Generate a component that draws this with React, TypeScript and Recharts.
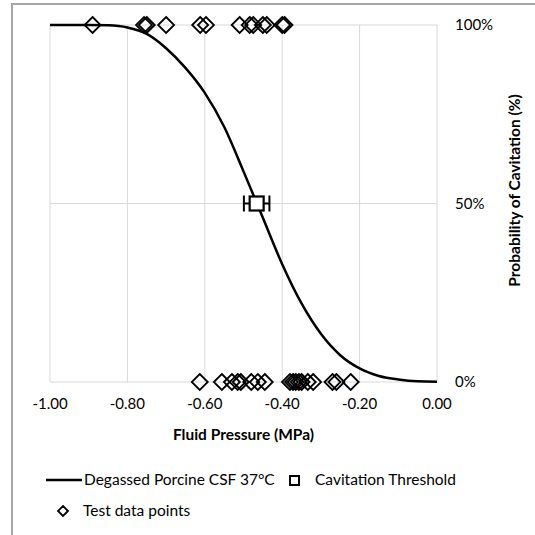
import { ComposedChart, Line, Scatter, ErrorBar, XAxis, YAxis, CartesianGrid } from "recharts";

const FONT = "Lato, 'Open Sans', sans-serif";

const xTicks = [-1, -0.8, -0.6, -0.4, -0.2, 0];
const yTicks = [0, 50, 100];

// fitted curve (pressure in MPa, probability in %)
const curveX = [-1, -0.95, -0.9, -0.85, -0.8, -0.75, -0.7, -0.65, -0.6, -0.55, -0.5, -0.45, -0.4, -0.35, -0.3, -0.25, -0.2, -0.15, -0.1, -0.05, 0];
const curveP = [100, 100, 100, 99.9, 99.3, 97.5, 93.5, 88, 81, 71.5, 59, 46, 33, 22, 13.5, 7.5, 3.8, 1.7, 0.7, 0.2, 0.1];

// test points that cavitated (100%) and did not (0%)
const cavitated = [-0.89, -0.757, -0.75, -0.7, -0.612, -0.597, -0.51, -0.484, -0.475, -0.45, -0.44, -0.4, -0.394];
const notCavitated = [-0.613, -0.556, -0.53, -0.515, -0.507, -0.48, -0.463, -0.445, -0.38, -0.372, -0.365, -0.357, -0.35, -0.334, -0.32, -0.27, -0.26, -0.223];

const thresholdX = -0.466;
const thresholdErr = 0.033;

const curveData = curveX.map((x, i) => ({ x, p: curveP[i] }));
const testData = [
  ...cavitated.map((x) => ({ x, p: 100 })),
  ...notCavitated.map((x) => ({ x, p: 0 })),
];
const thresholdData = [{ x: thresholdX, p: 50, err: thresholdErr }];

const Diamond = (props: any) => {
  const { cx, cy } = props;
  const r = 8;
  return (
    <path
      d={`M${cx},${cy - r}L${cx + r},${cy}L${cx},${cy + r}L${cx - r},${cy}Z`}
      fill="none"
      stroke="#000"
      strokeWidth={1.8}
    />
  );
};

const Square = (props: any) => {
  const { cx, cy } = props;
  return <rect x={cx - 7} y={cy - 7} width={14} height={14} fill="#fff" stroke="#000" strokeWidth={2.2} />;
};

const YTitle = (props: any) => {
  const { x, y, width, height } = props.viewBox;
  const cx = x + width - 21;
  const cy = y + height / 2 - 13;
  return (
    <text
      x={cx}
      y={cy}
      transform={`rotate(-90, ${cx}, ${cy})`}
      textAnchor="middle"
      dominantBaseline="central"
      fontSize={15.5}
      fontWeight="bold"
      fontFamily={FONT}
      fill="#000"
    >
      Probability of Cavitation (%)
    </text>
  );
};

export default function App() {
  return (
    <div style={{ position: "fixed", left: 0, top: 0, width: 535, height: 535, background: "#fff", overflow: "hidden", fontFamily: FONT }}>
      <div style={{ position: "absolute", left: 0, top: 0 }}>
        <ComposedChart width={535} height={535} margin={{ top: 25, right: 0, bottom: 93, left: 50 }}>
          <CartesianGrid stroke="#d9d9d9" strokeWidth={1} />
          <XAxis
            type="number"
            dataKey="x"
            domain={[-1, 0]}
            ticks={xTicks}
            tickFormatter={(v: number) => v.toFixed(2)}
            axisLine={false}
            tickLine={false}
            tickMargin={10}
            height={60}
            tick={{ fill: "#000", fontSize: 15, fontFamily: FONT }}
            label={{
              value: "Fluid Pressure (MPa)",
              position: "insideBottom",
              offset: 2,
              style: { fontWeight: "bold", fontSize: 15.5, fill: "#000", fontFamily: FONT },
            }}
          />
          <YAxis
            type="number"
            dataKey="p"
            orientation="right"
            domain={[0, 100]}
            ticks={yTicks}
            tickFormatter={(v: number) => `${v}%`}
            axisLine={false}
            tickLine={false}
            tickMargin={12}
            width={98}
            tick={{ fill: "#000", fontSize: 15, fontFamily: FONT, textAnchor: "start" }}
            label={<YTitle />}
          />
          <Line
            data={curveData}
            dataKey="p"
            type="monotone"
            stroke="#000"
            strokeWidth={2.5}
            dot={false}
            activeDot={false}
            isAnimationActive={false}
          />
          <Scatter data={testData} dataKey="p" shape={Diamond} isAnimationActive={false} />
          <Scatter data={thresholdData} dataKey="p" shape={Square} isAnimationActive={false}>
            <ErrorBar dataKey="err" direction="x" width={8} stroke="#000" strokeWidth={2} />
          </Scatter>
        </ComposedChart>
      </div>
      <svg style={{ position: "absolute", left: 0, top: 0, pointerEvents: "none" }} width={535} height={535}>
        <rect x={12} y={4} width={540} height={540} fill="none" stroke="#a6a6a6" strokeWidth={2} />
        <line x1={46} x2={82} y1={480} y2={480} stroke="#000" strokeWidth={2.5} />
        <text x={84} y={480} dy="0.35em" fontSize={15.5} fontFamily={FONT} fill="#000">
          Degassed Porcine CSF 37°C
        </text>
        <rect x={290} y={476} width={9} height={9} fill="#fff" stroke="#000" strokeWidth={2} />
        <text x={315} y={480} dy="0.35em" fontSize={15.5} fontFamily={FONT} fill="#000">
          Cavitation Threshold
        </text>
        <path d="M63,506L68,511L63,516L58,511Z" fill="none" stroke="#000" strokeWidth={1.8} />
        <text x={83} y={511} dy="0.35em" fontSize={15.5} fontFamily={FONT} fill="#000">
          Test data points
        </text>
      </svg>
    </div>
  );
}
